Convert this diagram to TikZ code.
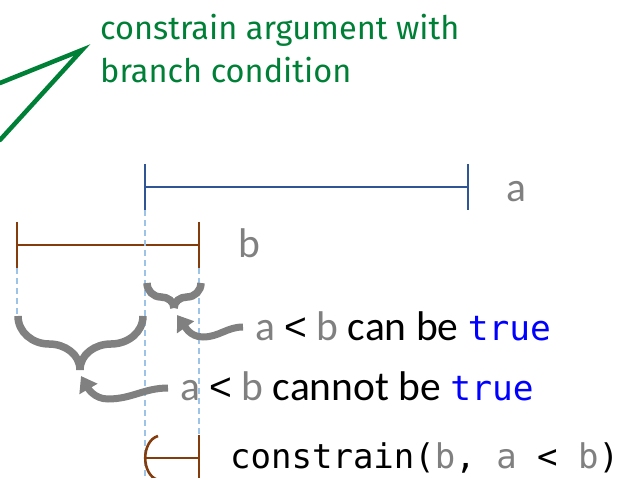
\documentclass[tikz,border=0pt]{standalone}
\usepackage{fontspec}
\setmainfont{Carlito}
\setmonofont{DejaVu Sans Mono}
\newfontfamily\notefont{Fira Sans}
\newfontfamily\ltfont{Liberation Sans}
\usetikzlibrary{arrows.meta}
\definecolor{notegreen}{RGB}{0,128,55}
\definecolor{barblue}{RGB}{47,85,151}
\definecolor{barbrown}{RGB}{132,60,12}
\definecolor{guideblue}{RGB}{157,195,230}
\definecolor{txtgray}{RGB}{128,128,128}
\definecolor{kwblue}{RGB}{0,0,255}
\newcommand{\gv}[1]{\textcolor{txtgray}{#1}}
\newcommand{\kw}[1]{\textcolor{kwblue}{\fontsize{34.5}{40}\selectfont\ttfamily #1}}
\newcommand{\lt}{{\ltfont\fontsize{39}{40}\selectfont <}}
\tikzset{
  bluebar/.style={draw=barblue, line width=2.6pt},
  brownbar/.style={draw=barbrown, line width=2.6pt},
  guide/.style={draw=guideblue, line width=1.4pt, dash pattern=on 6pt off 4pt},
  bracepath/.style={draw=txtgray, line width=7.5pt},
  grayarrow/.style={draw=txtgray, line width=7pt, -{Triangle[length=15pt,width=20pt]}},
  callout/.style={draw=notegreen, line width=4.5pt, line cap=round, line join=miter},
  lbl/.style={anchor=base west, inner sep=0pt, font=\fontsize{41.5}{48}\selectfont},
  notelbl/.style={anchor=base west, inner sep=0pt, text=notegreen, font=\notefont\fontsize{32.5}{43}\selectfont},
  codelbl/.style={anchor=base west, inner sep=0pt, font=\fontsize{34}{40}\selectfont\ttfamily},
}
\begin{document}
\begin{tikzpicture}[x=1pt,y=-1pt]
\useasboundingbox (0,0) rectangle (621,478);
\clip (0,0) rectangle (621,478);

% green note and callout
\node[notelbl] (note1) at (100,40) {constrain argument with};
\node[notelbl] (note2) at (100,83) {branch condition};
\coordinate (tip) at (82,50);
\coordinate (c1) at (0,83);
\coordinate (c2) at (0,140);
\draw[callout] (c1) -- (tip) -- (c2);

% bar a
\coordinate (a0) at (145,187);
\coordinate (a1) at (468,187);
\draw[bluebar] (a0) -- (a1);
\draw[bluebar] (145,164) -- (145,210);
\draw[bluebar] (468,164) -- (468,210);
\node[lbl, text=txtgray] (la) at (506,202) {a};

% bar b
\coordinate (b0) at (17,245);
\coordinate (b1) at (199,245);
\draw[brownbar] (b0) -- (b1);
\draw[brownbar] (17,222) -- (17,268);
\draw[brownbar] (199,222) -- (199,268);
\node[lbl, text=txtgray] (lb) at (238,258) {b};

% guides
\draw[guide] (17,268) -- (17,318);
\draw[guide] (145,210) -- (145,478);
\draw[guide] (199,268) -- (199,478);

% braces
\coordinate (sb) at (174,308);
\draw[bracepath] (147,283) to[out=-90,in=180] (161,297) to[out=0,in=90] (sb);
\draw[bracepath] (201,283) to[out=-90,in=0] (187,297) to[out=180,in=90] (sb);
\coordinate (bb) at (80,370);
\draw[bracepath] (18,316) to[out=-90,in=180] (49,344) to[out=0,in=90] (bb);
\draw[bracepath] (143,316) to[out=-90,in=0] (111,344) to[out=180,in=90] (bb);

% labels
\node[lbl] (t1) at (255,340) {\gv{a} \lt{} \gv{b} can be \kw{true}};
\node[lbl] (t2) at (180,400) {\gv{a} \lt{} \gv{b} cannot be \kw{true}};

% arrows
\coordinate (s1) at (243,327);
\coordinate (e1) at (177,315);
\coordinate (s2) at (168,388);
\coordinate (e2) at (81,376);
\draw[grayarrow] (s1) to[out=180,in=0] (203,337) to[out=180,in=-55] (e1);
\draw[grayarrow] (s2) to[out=180,in=0] (108,399) to[out=180,in=-60] (e2);

% constrain
\node[codelbl] (t3) at (230,468) {constrain(\gv{b}, \gv{a} < \gv{b})};
\coordinate (k0) at (158,436);
\draw[brownbar] (k0) .. controls (141,441) and (141,475) .. (158,480);
\draw[brownbar] (145,458) -- (199,458);
\draw[brownbar] (199,435) -- (199,478);
\end{tikzpicture}
\end{document}
